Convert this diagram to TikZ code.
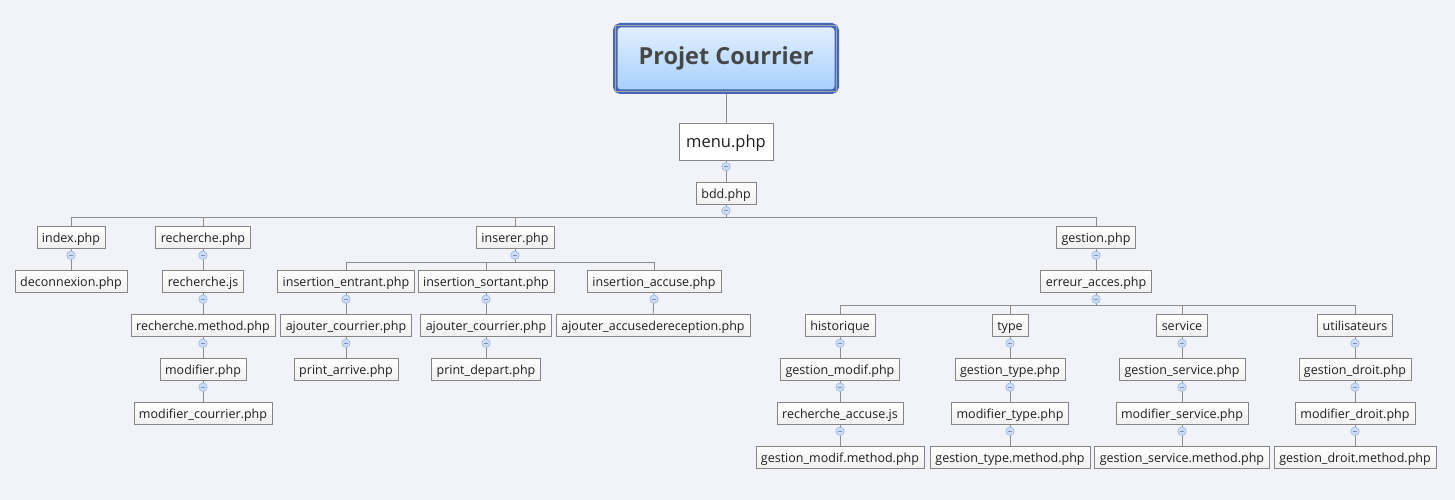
\documentclass[tikz,border=0pt]{standalone}
\usepackage{fontspec}
\setmainfont{Open Sans}
\definecolor{bg}{HTML}{F2F3F8}
\definecolor{linegray}{HTML}{8C8C8C}
\definecolor{boxgray}{HTML}{858585}
\definecolor{rootblue}{HTML}{4466BB}
\definecolor{roottop}{HTML}{E4F0FF}
\definecolor{rootbot}{HTML}{A4CFFB}
\definecolor{foldfill}{HTML}{CADCF7}
\definecolor{folddraw}{HTML}{9DB8E3}
\begin{document}
\begin{tikzpicture}
	[x=1pt,y=-1pt,
	file/.style={draw=boxgray,top color=white,bottom color=black!6,text=black!88,
		font=\fontsize{12.5}{15}\selectfont,text height=10.5pt,text depth=0.5pt,
		inner xsep=5.2pt,inner ysep=5.5pt},
	menubox/.style={file,font=\fontsize{16.5}{19}\selectfont,text height=13pt,text depth=2pt,
		inner xsep=7pt,inner ysep=11pt,top color=white,bottom color=white},
	root/.style={draw=rootblue,line width=4.5pt,rounded corners=5pt,top color=roottop,
		bottom color=rootbot,text=black!72,font=\fontsize{23.5}{27}\selectfont\bfseries,
		minimum width=221.5pt,minimum height=66.5pt},
	fold/.style={circle,draw=folddraw,fill=foldfill,inner sep=0pt,minimum size=8.5pt,line width=0.6pt,
		path picture={\draw[folddraw!80!black,line width=0.6pt]
			([xshift=-2pt]path picture bounding box.center) -- ([xshift=2pt]path picture bounding box.center);}},
	link/.style={draw=linegray,line width=0.8pt}]

    \useasboundingbox[fill=bg] (0,0) rectangle (1455,500);

    \node[root] (root) at (726,58.5) {Projet Courrier};
    \draw[gray!70,line width=0.7pt] ([shift={(2.8,2.8)}]root.north west) rectangle ([shift={(-2.8,-2.8)}]root.south east);
    \node[menubox] (menu) at (726,141.5) {menu.php};
    \node[file] (bdd) at (726,193) {bdd.php};

    % level 1
    \node[file] (index) at (71,237.5) {index.php};
    \node[file] (rech) at (203,237.5) {recherche.php};
    \node[file] (inserer) at (515,237.5) {inserer.php};
    \node[file] (gestion) at (1096,237.5) {gestion.php};

    % level 2
    \node[file] (deco) at (71,281.5) {deconnexion.php};
    \node[file] (rechjs) at (203,281.5) {recherche.js};
    \node[file] (insent) at (346,281.5) {insertion\_entrant.php};
    \node[file] (inssort) at (486,281.5) {insertion\_sortant.php};
    \node[file] (insacc) at (654,281.5) {insertion\_accuse.php};
    \node[file] (erreur) at (1096,281.5) {erreur\_acces.php};

    % level 3
    \node[file] (rechmeth) at (203,325.5) {recherche.method.php};
    \node[file] (ajent) at (346,325.5) {ajouter\_courrier.php};
    \node[file] (ajsort) at (486,325.5) {ajouter\_courrier.php};
    \node[file] (ajacc) at (653,325.5) {ajouter\_accusedereception.php};
    \node[file] (hist) at (840,325.5) {historique};
    \node[file] (typ) at (1010,325.5) {type};
    \node[file] (service) at (1182,325.5) {service};
    \node[file] (users) at (1355,325.5) {utilisateurs};

    % level 4
    \node[file] (modif) at (203,369.5) {modifier.php};
    \node[file] (printarr) at (346,369.5) {print\_arrive.php};
    \node[file] (printdep) at (486,369.5) {print\_depart.php};
    \node[file] (gmodif) at (840,369.5) {gestion\_modif.php};
    \node[file] (gtype) at (1010,369.5) {gestion\_type.php};
    \node[file] (gservice) at (1182,369.5) {gestion\_service.php};
    \node[file] (gdroit) at (1355,369.5) {gestion\_droit.php};

    % level 5
    \node[file] (modifcour) at (203,413.5) {modifier\_courrier.php};
    \node[file] (raccuse) at (840,413.5) {recherche\_accuse.js};
    \node[file] (mtype) at (1010,413.5) {modifier\_type.php};
    \node[file] (mservice) at (1182,413.5) {modifier\_service.php};
    \node[file] (mdroit) at (1355,413.5) {modifier\_droit.php};

    % level 6
    \node[file] (gmodifm) at (840,457.5) {gestion\_modif.method.php};
    \node[file] (gtypem) at (1010,457.5) {gestion\_type.method.php};
    \node[file] (gservicem) at (1182,457.5) {gestion\_service.method.php};
    \node[file] (gdroitm) at (1355,457.5) {gestion\_droit.method.php};

    % connectors
    \draw[link] (root) -- (menu);
    \draw[link] (menu) -- (bdd);
    \foreach \c in {index,rech,inserer,gestion}
        \draw[link] (bdd.south) -- ++(0,13) -| (\c.north);
    \foreach \c in {insent,inssort,insacc}
        \draw[link] (inserer.south) -- ++(0,13.5) -| (\c.north);
    \foreach \c in {hist,typ,service,users}
        \draw[link] (erreur.south) -- ++(0,13) -| (\c.north);
    \draw[link] (index) -- (deco);
    \draw[link] (rech) -- (rechjs) -- (rechmeth) -- (modif) -- (modifcour);
    \draw[link] (gestion) -- (erreur);
    \draw[link] (insent) -- (ajent) -- (printarr);
    \draw[link] (inssort) -- (ajsort) -- (printdep);
    \draw[link] (insacc) -- (ajacc);
    \draw[link] (hist) -- (gmodif) -- (raccuse) -- (gmodifm);
    \draw[link] (typ) -- (gtype) -- (mtype) -- (gtypem);
    \draw[link] (service) -- (gservice) -- (mservice) -- (gservicem);
    \draw[link] (users) -- (gdroit) -- (mdroit) -- (gdroitm);

    % fold markers
    \foreach \n in {menu,bdd,index,rech,rechjs,rechmeth,modif,inserer,insent,ajent,inssort,ajsort,
        insacc,gestion,erreur,hist,gmodif,raccuse,typ,gtype,mtype,service,gservice,mservice,users,gdroit,mdroit}
        \node[fold] (\n-fold) at ([yshift=-6.5pt]\n.south) {};

\end{tikzpicture}
\end{document}
